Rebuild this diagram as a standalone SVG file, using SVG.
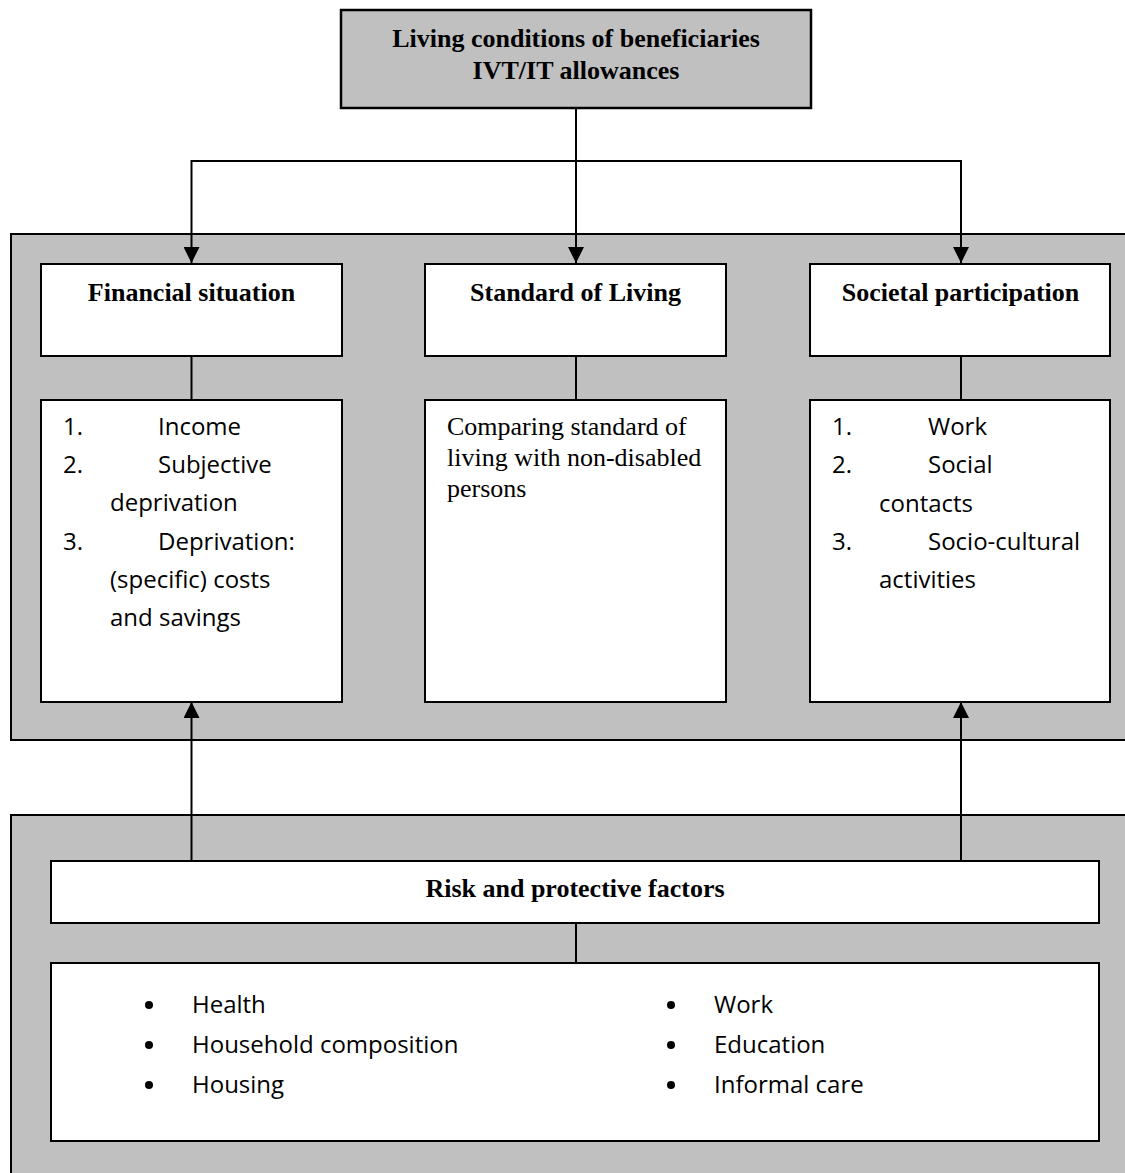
<svg xmlns="http://www.w3.org/2000/svg" width="1125" height="1173" viewBox="0 0 1125 1173">
<style>
.panel{fill:#c0c0c0;stroke:#000;stroke-width:2}
.box{fill:#fff;stroke:#000;stroke-width:2}
.gbox{fill:#c0c0c0;stroke:#000;stroke-width:2.5}
.conn{fill:none;stroke:#000;stroke-width:2}
.title{font-family:"Liberation Serif","Times New Roman",serif;font-weight:bold;font-size:26px;fill:#000;text-anchor:middle}
.serif{font-family:"Liberation Serif","Times New Roman",serif;font-size:26px;fill:#000}
.sans{font-family:"Open Sans","Liberation Sans",sans-serif;font-size:24px;fill:#000}
</style>
<defs>
<marker id="arr" viewBox="0 0 16 16" refX="16" refY="8" markerWidth="16" markerHeight="16" markerUnits="userSpaceOnUse" orient="auto">
<path d="M0,0 L16,8 L0,16 Z" fill="#000"/>
</marker>
</defs>

<g id="panel-outcomes">
<rect class="panel" x="11" y="234" width="1130" height="506"/>
</g>
<g id="panel-factors">
<rect class="panel" x="11" y="815" width="1130" height="370"/>
</g>

<g id="connectors">
<path class="conn" d="M576,104 L576,263" marker-end="url(#arr)"/>
<path class="conn" d="M191.5,161 L961,161"/>
<path class="conn" d="M191.5,160 L191.5,263" marker-end="url(#arr)"/>
<path class="conn" d="M961,160 L961,263" marker-end="url(#arr)"/>
<path class="conn" d="M191.5,356 L191.5,400"/>
<path class="conn" d="M576,356 L576,400"/>
<path class="conn" d="M961,356 L961,400"/>
<path class="conn" d="M191.5,861 L191.5,702" marker-end="url(#arr)"/>
<path class="conn" d="M961,861 L961,702" marker-end="url(#arr)"/>
<path class="conn" d="M576,923 L576,963"/>
</g>

<g id="node-top">
<rect class="gbox" x="341" y="10" width="470" height="98"/>
<text class="title" x="576" y="47">Living conditions of beneficiaries</text>
<text class="title" x="576" y="79">IVT/IT allowances</text>
</g>

<g id="node-financial">
<rect class="box" x="41" y="264" width="301" height="92"/>
<text class="title" x="191.5" y="301">Financial situation</text>
</g>
<g id="node-standard">
<rect class="box" x="425" y="264" width="301" height="92"/>
<text class="title" x="575.5" y="301">Standard of Living</text>
</g>
<g id="node-societal">
<rect class="box" x="810" y="264" width="300" height="92"/>
<text class="title" x="960.5" y="301">Societal participation</text>
</g>

<g id="node-financial-list">
<rect class="box" x="41" y="400" width="301" height="302"/>
<text class="sans" x="63" y="435">1.</text>
<text class="sans" x="158" y="435">Income</text>
<text class="sans" x="63" y="473">2.</text>
<text class="sans" x="158" y="473">Subjective</text>
<text class="sans" x="110" y="511">deprivation</text>
<text class="sans" x="63" y="550">3.</text>
<text class="sans" x="158" y="550">Deprivation:</text>
<text class="sans" x="110" y="588">(specific) costs</text>
<text class="sans" x="110" y="626">and savings</text>
</g>
<g id="node-standard-list">
<rect class="box" x="425" y="400" width="301" height="302"/>
<text class="serif" x="447" y="435">Comparing standard of</text>
<text class="serif" x="447" y="466">living with non-disabled</text>
<text class="serif" x="447" y="497">persons</text>
</g>
<g id="node-societal-list">
<rect class="box" x="810" y="400" width="300" height="302"/>
<text class="sans" x="832" y="435">1.</text>
<text class="sans" x="928" y="435">Work</text>
<text class="sans" x="832" y="473">2.</text>
<text class="sans" x="928" y="473">Social</text>
<text class="sans" x="879" y="512">contacts</text>
<text class="sans" x="832" y="550">3.</text>
<text class="sans" x="928" y="550">Socio-cultural</text>
<text class="sans" x="879" y="588">activities</text>
</g>

<g id="node-risk">
<rect class="box" x="51" y="861" width="1048" height="62"/>
<text class="title" x="575" y="897">Risk and protective factors</text>
</g>
<g id="node-factors">
<rect class="box" x="51" y="963" width="1048" height="178"/>
<circle cx="149" cy="1005" r="4"/>
<circle cx="149" cy="1045" r="4"/>
<circle cx="149" cy="1085" r="4"/>
<circle cx="671" cy="1005" r="4"/>
<circle cx="671" cy="1045" r="4"/>
<circle cx="671" cy="1085" r="4"/>
<text class="sans" x="192" y="1013">Health</text>
<text class="sans" x="192" y="1053">Household composition</text>
<text class="sans" x="192" y="1093">Housing</text>
<text class="sans" x="714" y="1013">Work</text>
<text class="sans" x="714" y="1053">Education</text>
<text class="sans" x="714" y="1093">Informal care</text>
</g>
</svg>
